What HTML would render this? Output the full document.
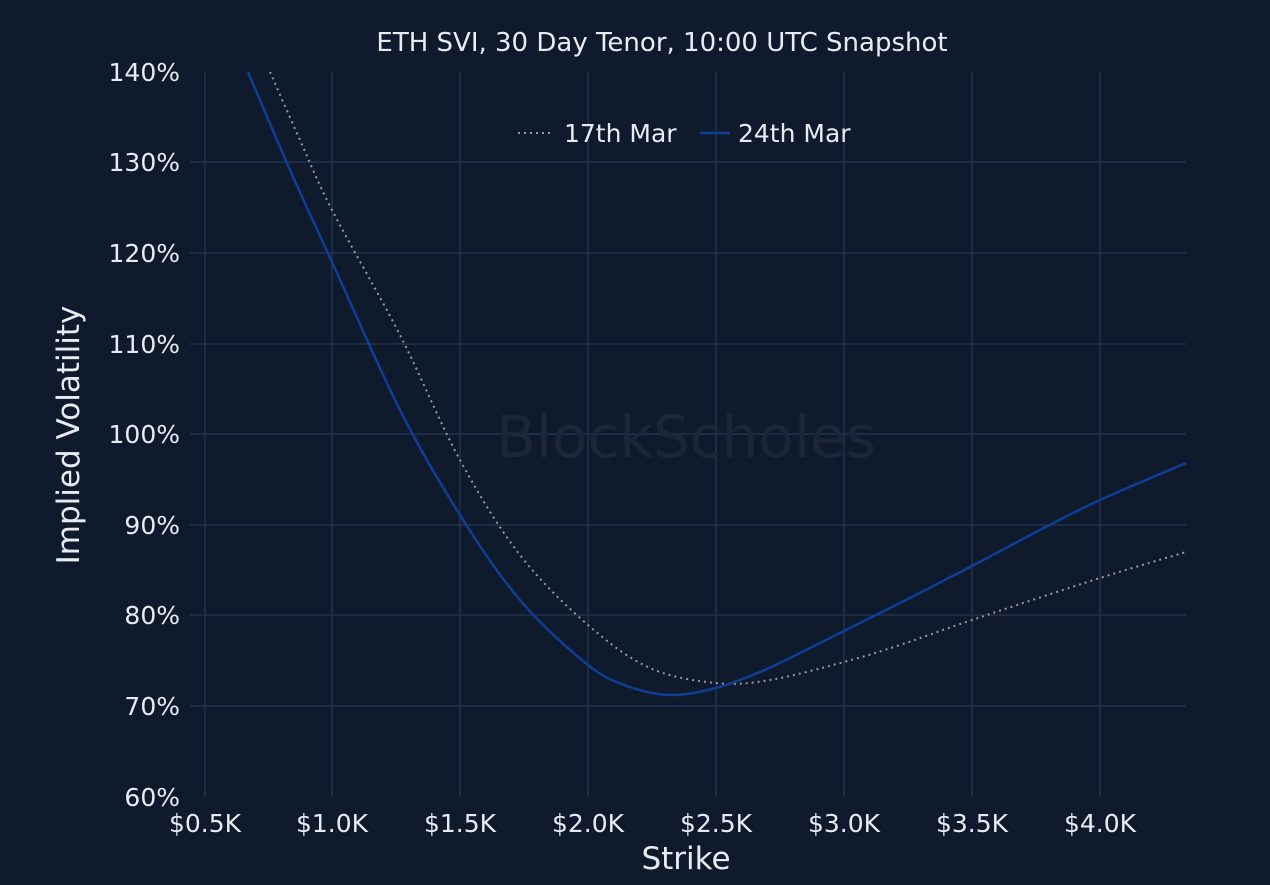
<!DOCTYPE html>
<html><head><meta charset="utf-8"><style>
html,body{margin:0;padding:0;background:#101a2d;}
svg{display:block;font-family:"DejaVu Sans","Liberation Sans",sans-serif;}
</style></head><body>
<svg id="s" width="1270" height="885" viewBox="0 0 1270 885" xmlns="http://www.w3.org/2000/svg">
<rect width="1270" height="885" fill="#101a2d"/>
<g stroke="#1f3152" stroke-width="1.5">
<line x1="205" y1="72" x2="205" y2="797"/><line x1="332" y1="72" x2="332" y2="797"/>
<line x1="460" y1="72" x2="460" y2="797"/><line x1="588" y1="72" x2="588" y2="797"/>
<line x1="716" y1="72" x2="716" y2="797"/><line x1="844" y1="72" x2="844" y2="797"/>
<line x1="972" y1="72" x2="972" y2="797"/><line x1="1100" y1="72" x2="1100" y2="797"/>
<line x1="190" y1="162" x2="1186" y2="162"/><line x1="190" y1="253" x2="1186" y2="253"/>
<line x1="190" y1="344" x2="1186" y2="344"/><line x1="190" y1="434" x2="1186" y2="434"/>
<line x1="190" y1="525" x2="1186" y2="525"/><line x1="190" y1="615" x2="1186" y2="615"/>
<line x1="190" y1="706" x2="1186" y2="706"/>
</g>
<text x="686" y="457" font-size="58" fill="#1d2638" text-anchor="middle">BlockScholes</text>
<g fill="#e8ecf2" font-size="25" text-anchor="end">
<text x="180" y="81">140%</text><text x="180" y="171">130%</text><text x="180" y="262">120%</text>
<text x="180" y="353">110%</text><text x="180" y="443">100%</text><text x="180" y="534">90%</text>
<text x="180" y="624">80%</text><text x="180" y="715">70%</text><text x="180" y="806">60%</text>
</g>
<g fill="#e8ecf2" font-size="25" text-anchor="middle">
<text x="205" y="832">$0.5K</text><text x="332" y="832">$1.0K</text><text x="460" y="832">$1.5K</text>
<text x="588" y="832">$2.0K</text><text x="716" y="832">$2.5K</text><text x="844" y="832">$3.0K</text>
<text x="972" y="832">$3.5K</text><text x="1100" y="832">$4.0K</text>
</g>
<text x="686" y="869" font-size="31" fill="#e8ecf2" text-anchor="middle">Strike</text>
<text transform="translate(79,435) rotate(-90)" font-size="31" fill="#e8ecf2" text-anchor="middle">Implied Volatility</text>
<text x="662" y="51" font-size="26" fill="#e8ecf2" text-anchor="middle">ETH SVI, 30 Day Tenor, 10:00 UTC Snapshot</text>
<line x1="518" y1="133" x2="554" y2="133" stroke="#9a9a9a" stroke-width="2" stroke-dasharray="2 4"/>
<text x="564" y="142" font-size="25" fill="#e8ecf2">17th Mar</text>
<line x1="700" y1="133" x2="730" y2="133" stroke="#0e3f94" stroke-width="2.5"/>
<text x="738" y="142" font-size="25" fill="#e8ecf2">24th Mar</text>
<path id="g" fill="none" stroke="#9a9a9a" stroke-width="2" stroke-dasharray="2 4"/>
<path id="b" fill="none" stroke="#0e3f94" stroke-width="2.5"/>
</svg>
<script>
function cr(p){let d="M"+p[0][0]+","+p[0][1];for(let i=0;i<p.length-1;i++){const a=p[i-1]||p[i],b=p[i],c=p[i+1],e=p[i+2]||c;
d+=" C"+(b[0]+(c[0]-a[0])/6)+","+(b[1]+(c[1]-a[1])/6)+" "+(c[0]-(e[0]-b[0])/6)+","+(c[1]-(e[1]-b[1])/6)+" "+c[0]+","+c[1];}return d;}
document.getElementById("b").setAttribute("d",cr([[248,72],[290,170],[332,262],[400,410],[460,515],[520,600],[588,665],[630,687],[672,695],[716,688],[760,672],[800,653],[844,631],[900,603],[972,566],[1040,530],[1100,500],[1186,463]]));
document.getElementById("g").setAttribute("d",cr([[270,72],[300,140],[332,210],[400,335],[460,460],[520,555],[588,625],[650,668],[716,683],[770,680],[844,662],[900,645],[972,620],[1100,578],[1186,552]]));
</script>
</body></html>
